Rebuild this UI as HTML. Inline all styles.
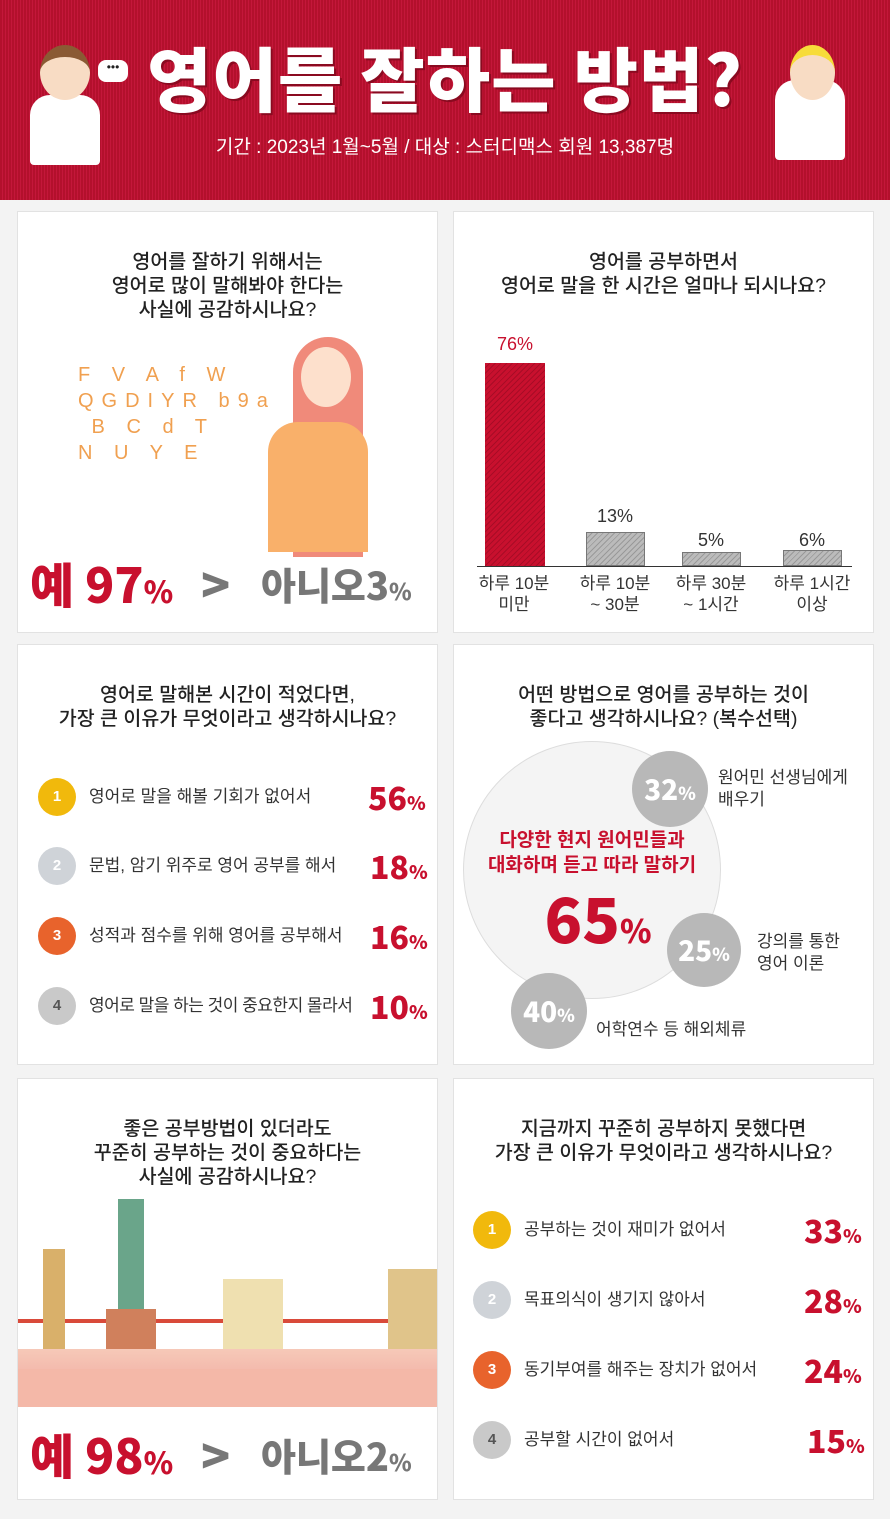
<!DOCTYPE html>
<html><head><meta charset="utf-8">
<style>
*{margin:0;padding:0;box-sizing:border-box}
body{width:890px;height:1519px;background:#f3f3f3;font-family:"Liberation Sans","Noto Sans CJK KR",sans-serif;position:relative;overflow:hidden;color:#222}
.a{position:absolute}
.hdr{left:0;top:0;width:890px;height:200px;background:repeating-linear-gradient(90deg,#b3102c 0 2px,#c4173a 2px 3px)}
.p{position:absolute;background:#fff;border:1px solid #e2e2e2}
.q{position:absolute;left:0;width:100%;text-align:center;font-size:19.5px;line-height:24px;color:#222;font-weight:500}
.big{font-weight:900;font-family:"Noto Sans CJK KR",sans-serif}
.med{position:absolute;width:38px;height:38px;border-radius:50%;color:#fff;font-weight:bold;text-align:center;line-height:38px;font-size:15px}
.lbl{position:absolute;font-size:17px;color:#333;line-height:38px}
.pc{position:absolute;font-weight:900;color:#c8102e;font-size:32px;line-height:38px;font-family:"Noto Sans CJK KR",sans-serif}
.pc small{font-size:19px}
.gc{position:absolute;border-radius:50%;background:#b8b8b8;color:#fff;font-weight:900;text-align:center;font-family:"Noto Sans CJK KR",sans-serif}
.bl{position:absolute;font-size:17px;color:#333;text-align:center;line-height:21px;width:100px}
</style></head><body>
<div class="a hdr"></div>
<div class="a big" style="left:0;top:32px;width:890px;text-align:center;color:#fff;font-size:70px;line-height:90px;letter-spacing:1px;text-shadow:2px 2px 0 #8a0a20">영어를 잘하는 방법?</div>
<div class="a" style="left:0;top:132px;width:890px;text-align:center;color:#fff;font-size:19px">기간 : 2023년 1월~5월 / 대상 : 스터디맥스 회원 13,387명</div>
<div class="a" style="left:30px;top:95px;width:70px;height:70px;background:#fff;border-radius:20px 20px 4px 4px"></div>
<div class="a" style="left:40px;top:45px;width:50px;height:55px;background:#f8dcc4;border-radius:50%;border-top:12px solid #8a5a34"></div>
<div class="a" style="left:98px;top:60px;width:30px;height:22px;background:#fff;border-radius:8px;font-size:12px;text-align:center">•••</div>
<div class="a" style="left:775px;top:80px;width:70px;height:80px;background:#fff;border-radius:20px 20px 4px 4px"></div>
<div class="a" style="left:790px;top:45px;width:45px;height:55px;background:#f8dcc4;border-radius:50%;border-top:10px solid #f7dc3a"></div>

<div class="p" style="left:17px;top:211px;width:421px;height:422px">
<div class="q" style="top:38px">영어를 잘하기 위해서는<br>영어로 많이 말해봐야 한다는<br>사실에 공감하시나요?</div>
<div class="a" style="left:60px;top:150px;width:220px;height:110px;color:#f0a050;font-size:20px;letter-spacing:8px;line-height:26px">F V A f W<br>QGDIYR b9a<br>&nbsp;B C d T<br>N U Y E</div>
<div class="a" style="left:275px;top:125px;width:70px;height:220px;background:#f08a7a;border-radius:35px 35px 0 0"></div>
<div class="a" style="left:283px;top:135px;width:50px;height:60px;background:#fde0cc;border-radius:50%"></div>
<div class="a" style="left:250px;top:210px;width:100px;height:130px;background:#f9b06a;border-radius:30px 30px 0 0"></div>
<div class="a big" style="left:12px;top:340px;color:#c8102e;font-size:48px;line-height:60px">예 97<span style="font-size:30px">%</span></div>
<div class="a big" style="left:183px;top:340px;color:#777;font-size:48px;line-height:60px">&gt;</div>
<div class="a big" style="left:243px;top:345px;color:#777;font-size:38px;line-height:54px">아니오3<span style="font-size:23px">%</span></div>
</div>

<div class="p" style="left:453px;top:211px;width:421px;height:422px">
<div class="q" style="top:38px">영어를 공부하면서<br>영어로 말을 한 시간은 얼마나 되시나요?</div>
<div class="a" style="left:23px;top:354px;width:375px;height:1px;background:#333"></div>
<div class="a" style="left:31px;top:151px;width:60px;height:203px;background:repeating-linear-gradient(135deg,#c8102e 0 3px,#a80c26 3px 4px)"></div>
<div class="a" style="left:132px;top:320px;width:59px;height:34px;border:1px solid #777;background:repeating-linear-gradient(135deg,#bbb 0 3px,#999 3px 4px)"></div>
<div class="a" style="left:228px;top:340px;width:59px;height:14px;border:1px solid #777;background:repeating-linear-gradient(135deg,#bbb 0 3px,#999 3px 4px)"></div>
<div class="a" style="left:329px;top:338px;width:59px;height:16px;border:1px solid #777;background:repeating-linear-gradient(135deg,#bbb 0 3px,#999 3px 4px)"></div>
<div class="bl" style="left:11px;top:122px;color:#c8102e;font-size:18px">76%</div>
<div class="bl" style="left:111px;top:294px;font-size:18px">13%</div>
<div class="bl" style="left:207px;top:318px;font-size:18px">5%</div>
<div class="bl" style="left:308px;top:318px;font-size:18px">6%</div>
<div class="bl" style="left:10px;top:361px">하루 10분<br>미만</div>
<div class="bl" style="left:111px;top:361px">하루 10분<br>~ 30분</div>
<div class="bl" style="left:207px;top:361px">하루 30분<br>~ 1시간</div>
<div class="bl" style="left:308px;top:361px">하루 1시간<br>이상</div>
</div>

<div class="p" style="left:17px;top:644px;width:421px;height:421px">
<div class="q" style="top:38px">영어로 말해본 시간이 적었다면,<br>가장 큰 이유가 무엇이라고 생각하시나요?</div>
<div class="med" style="left:20px;top:133px;background:#f1b90c">1</div><div class="lbl" style="left:71px;top:133px">영어로 말을 해볼 기회가 없어서</div><div class="pc" style="left:350px;top:133px">56<small>%</small></div>
<div class="med" style="left:20px;top:202px;background:#cfd3d8">2</div><div class="lbl" style="left:71px;top:202px">문법, 암기 위주로 영어 공부를 해서</div><div class="pc" style="left:352px;top:202px">18<small>%</small></div>
<div class="med" style="left:20px;top:272px;background:#e8632c">3</div><div class="lbl" style="left:71px;top:272px">성적과 점수를 위해 영어를 공부해서</div><div class="pc" style="left:352px;top:272px">16<small>%</small></div>
<div class="med" style="left:20px;top:342px;background:#c9c9c9;color:#555">4</div><div class="lbl" style="left:71px;top:342px;letter-spacing:-0.5px">영어로 말을 하는 것이 중요한지 몰라서</div><div class="pc" style="left:352px;top:342px">10<small>%</small></div>
</div>

<div class="p" style="left:453px;top:644px;width:421px;height:421px">
<div class="q" style="top:38px">어떤 방법으로 영어를 공부하는 것이<br>좋다고 생각하시나요? (복수선택)</div>
<div class="a" style="left:9px;top:96px;width:258px;height:258px;border-radius:50%;background:#f4f4f4;border:1px solid #ddd"></div>
<div class="a" style="left:9px;top:183px;width:258px;text-align:center;color:#c8102e;font-size:19px;font-weight:bold;line-height:25px">다양한 현지 원어민들과<br>대화하며 듣고 따라 말하기</div>
<div class="a big" style="left:9px;top:236px;width:270px;text-align:center;color:#c8102e;font-size:62px;line-height:70px">65<span style="font-size:32px">%</span></div>
<div class="gc" style="left:178px;top:106px;width:76px;height:76px;line-height:76px;font-size:28px">32<span style="font-size:18px">%</span></div>
<div class="gc" style="left:213px;top:268px;width:74px;height:74px;line-height:74px;font-size:28px">25<span style="font-size:18px">%</span></div>
<div class="gc" style="left:57px;top:328px;width:76px;height:76px;line-height:76px;font-size:28px">40<span style="font-size:18px">%</span></div>
<div class="a" style="left:264px;top:122px;font-size:17px;line-height:22px;color:#333">원어민 선생님에게<br>배우기</div>
<div class="a" style="left:303px;top:286px;font-size:17px;line-height:22px;color:#333">강의를 통한<br>영어 이론</div>
<div class="a" style="left:142px;top:370px;font-size:17px;color:#333">어학연수 등 해외체류</div>
</div>

<div class="p" style="left:17px;top:1078px;width:421px;height:422px">
<div class="q" style="top:38px">좋은 공부방법이 있더라도<br>꾸준히 공부하는 것이 중요하다는<br>사실에 공감하시나요?</div>
<div class="a" style="left:0;top:270px;width:419px;height:58px;background:linear-gradient(#f6c9b8,#f0a09a)"></div>
<div class="a" style="left:0;top:240px;width:419px;height:4px;background:#d94a3a"></div>
<div class="a" style="left:25px;top:170px;width:22px;height:100px;background:#d9b06a"></div>
<div class="a" style="left:100px;top:120px;width:26px;height:150px;background:#6aa58a"></div>
<div class="a" style="left:88px;top:230px;width:50px;height:40px;background:#d0805c"></div>
<div class="a" style="left:205px;top:200px;width:60px;height:70px;background:#efe0b0"></div>
<div class="a" style="left:370px;top:190px;width:49px;height:80px;background:#e0c48a"></div>
<div class="a" style="left:0;top:290px;width:419px;height:38px;background:#f4b8a8"></div>
<div class="a big" style="left:12px;top:344px;color:#c8102e;font-size:48px;line-height:60px">예 98<span style="font-size:30px">%</span></div>
<div class="a big" style="left:183px;top:344px;color:#777;font-size:48px;line-height:60px">&gt;</div>
<div class="a big" style="left:243px;top:349px;color:#777;font-size:38px;line-height:54px">아니오2<span style="font-size:23px">%</span></div>
</div>

<div class="p" style="left:453px;top:1078px;width:421px;height:422px">
<div class="q" style="top:38px">지금까지 꾸준히 공부하지 못했다면<br>가장 큰 이유가 무엇이라고 생각하시나요?</div>
<div class="med" style="left:19px;top:132px;background:#f1b90c">1</div><div class="lbl" style="left:70px;top:132px">공부하는 것이 재미가 없어서</div><div class="pc" style="left:350px;top:132px">33<small>%</small></div>
<div class="med" style="left:19px;top:202px;background:#cfd3d8">2</div><div class="lbl" style="left:70px;top:202px">목표의식이 생기지 않아서</div><div class="pc" style="left:350px;top:202px">28<small>%</small></div>
<div class="med" style="left:19px;top:272px;background:#e8632c">3</div><div class="lbl" style="left:70px;top:272px">동기부여를 해주는 장치가 없어서</div><div class="pc" style="left:350px;top:272px">24<small>%</small></div>
<div class="med" style="left:19px;top:342px;background:#c9c9c9;color:#555">4</div><div class="lbl" style="left:70px;top:342px">공부할 시간이 없어서</div><div class="pc" style="left:353px;top:342px">15<small>%</small></div>
</div>
</body></html>
